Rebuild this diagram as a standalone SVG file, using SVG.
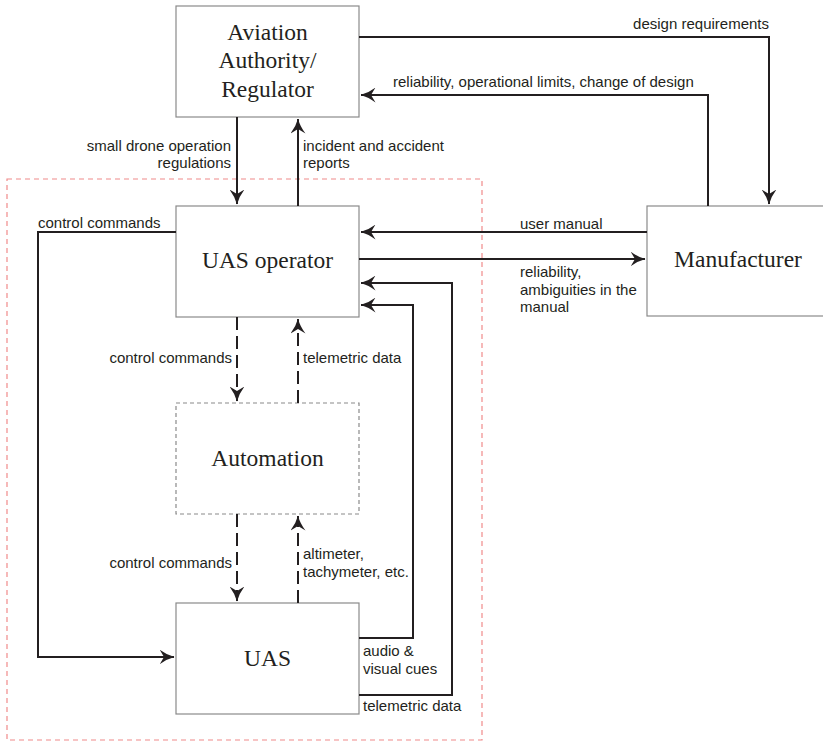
<svg xmlns="http://www.w3.org/2000/svg" width="823" height="742" viewBox="0 0 823 742">
<style>
.box{fill:#fff;stroke:#8a8a8a;stroke-width:1.2}
.dbox{fill:#fff;stroke:#8a8a8a;stroke-width:1.2;stroke-dasharray:4,3}
.title{font-family:"Liberation Serif","Times New Roman",serif;font-size:23.5px;fill:#231f20;text-anchor:middle}
.lbl{font-family:"Liberation Sans",Arial,sans-serif;font-size:15px;fill:#231f20}
.end{text-anchor:end}
.c{fill:none;stroke:#231f20;stroke-width:2}
.arr{marker-end:url(#ah)}
.dash{stroke-dasharray:13,6}
</style>
<defs>
<marker id="ah" markerUnits="userSpaceOnUse" viewBox="0 0 15 15" markerWidth="15" markerHeight="15" refX="14.5" refY="7.5" orient="auto">
<path d="M15,7.5 Q7,5.5 0,0 L4.5,7.5 L0,15 Q7,9.5 15,7.5 Z" fill="#231f20"/>
</marker>
</defs>
<rect width="823" height="742" fill="#fff"/>
<rect id="boundary" x="7" y="179" width="475" height="561" fill="none" stroke="#f08a8a" stroke-width="1.2" stroke-dasharray="5,4"/>

<g id="aviation">
<rect class="box" x="176" y="6" width="183" height="111"/>
<text class="title" x="267.5" y="40">Aviation</text>
<text class="title" x="267.5" y="68">Authority/</text>
<text class="title" x="267.5" y="97">Regulator</text>
</g>
<g id="operator">
<rect class="box" x="176" y="206" width="183" height="111"/>
<text class="title" x="267.5" y="268">UAS operator</text>
</g>
<g id="manufacturer">
<rect class="box" x="647" y="206" width="180" height="110"/>
<text class="title" x="738" y="267">Manufacturer</text>
</g>
<g id="automation">
<rect class="dbox" x="176" y="403" width="183" height="111"/>
<text class="title" x="267.5" y="466">Automation</text>
</g>
<g id="uas">
<rect class="box" x="176" y="603" width="183" height="111"/>
<text class="title" x="267.5" y="666">UAS</text>
</g>

<g id="connectors">
<path class="c arr" d="M237,117 V204"/>
<path class="c arr" d="M298,206 V119"/>
<path class="c arr" d="M359,37 H769 V204"/>
<path class="c arr" d="M708,206 V95 H361"/>
<path class="c arr" d="M647,232 H361"/>
<path class="c arr" d="M359,259 H645"/>
<path class="c arr" d="M176,232 H38 V657 H174"/>
<path class="c arr" d="M359,638 H413 V305 H361"/>
<path class="c arr" d="M359,695 H452 V283 H361"/>
<path class="c dash arr" d="M237,317 V401"/>
<path class="c dash arr" d="M298,403 V319"/>
<path class="c dash arr" d="M237,514 V601"/>
<path class="c dash arr" d="M298,603 V516"/>
</g>

<g id="labels">
<text class="lbl end" x="769" y="29">design requirements</text>
<text class="lbl" x="393" y="87">reliability, operational limits, change of design</text>
<text class="lbl end" x="231" y="151">small drone operation</text>
<text class="lbl end" x="231" y="168">regulations</text>
<text class="lbl" x="303" y="151">incident and accident</text>
<text class="lbl" x="303" y="168">reports</text>
<text class="lbl" x="38" y="228">control commands</text>
<text class="lbl" x="520" y="229">user manual</text>
<text class="lbl" x="520" y="277">reliability,</text>
<text class="lbl" x="520" y="295">ambiguities in the</text>
<text class="lbl" x="520" y="312">manual</text>
<text class="lbl end" x="232" y="363">control commands</text>
<text class="lbl" x="303" y="363">telemetric data</text>
<text class="lbl end" x="232" y="568">control commands</text>
<text class="lbl" x="303" y="559">altimeter,</text>
<text class="lbl" x="303" y="577">tachymeter, etc.</text>
<text class="lbl" x="363" y="656">audio &amp;</text>
<text class="lbl" x="363" y="674">visual cues</text>
<text class="lbl" x="363" y="711">telemetric data</text>
</g>
</svg>
